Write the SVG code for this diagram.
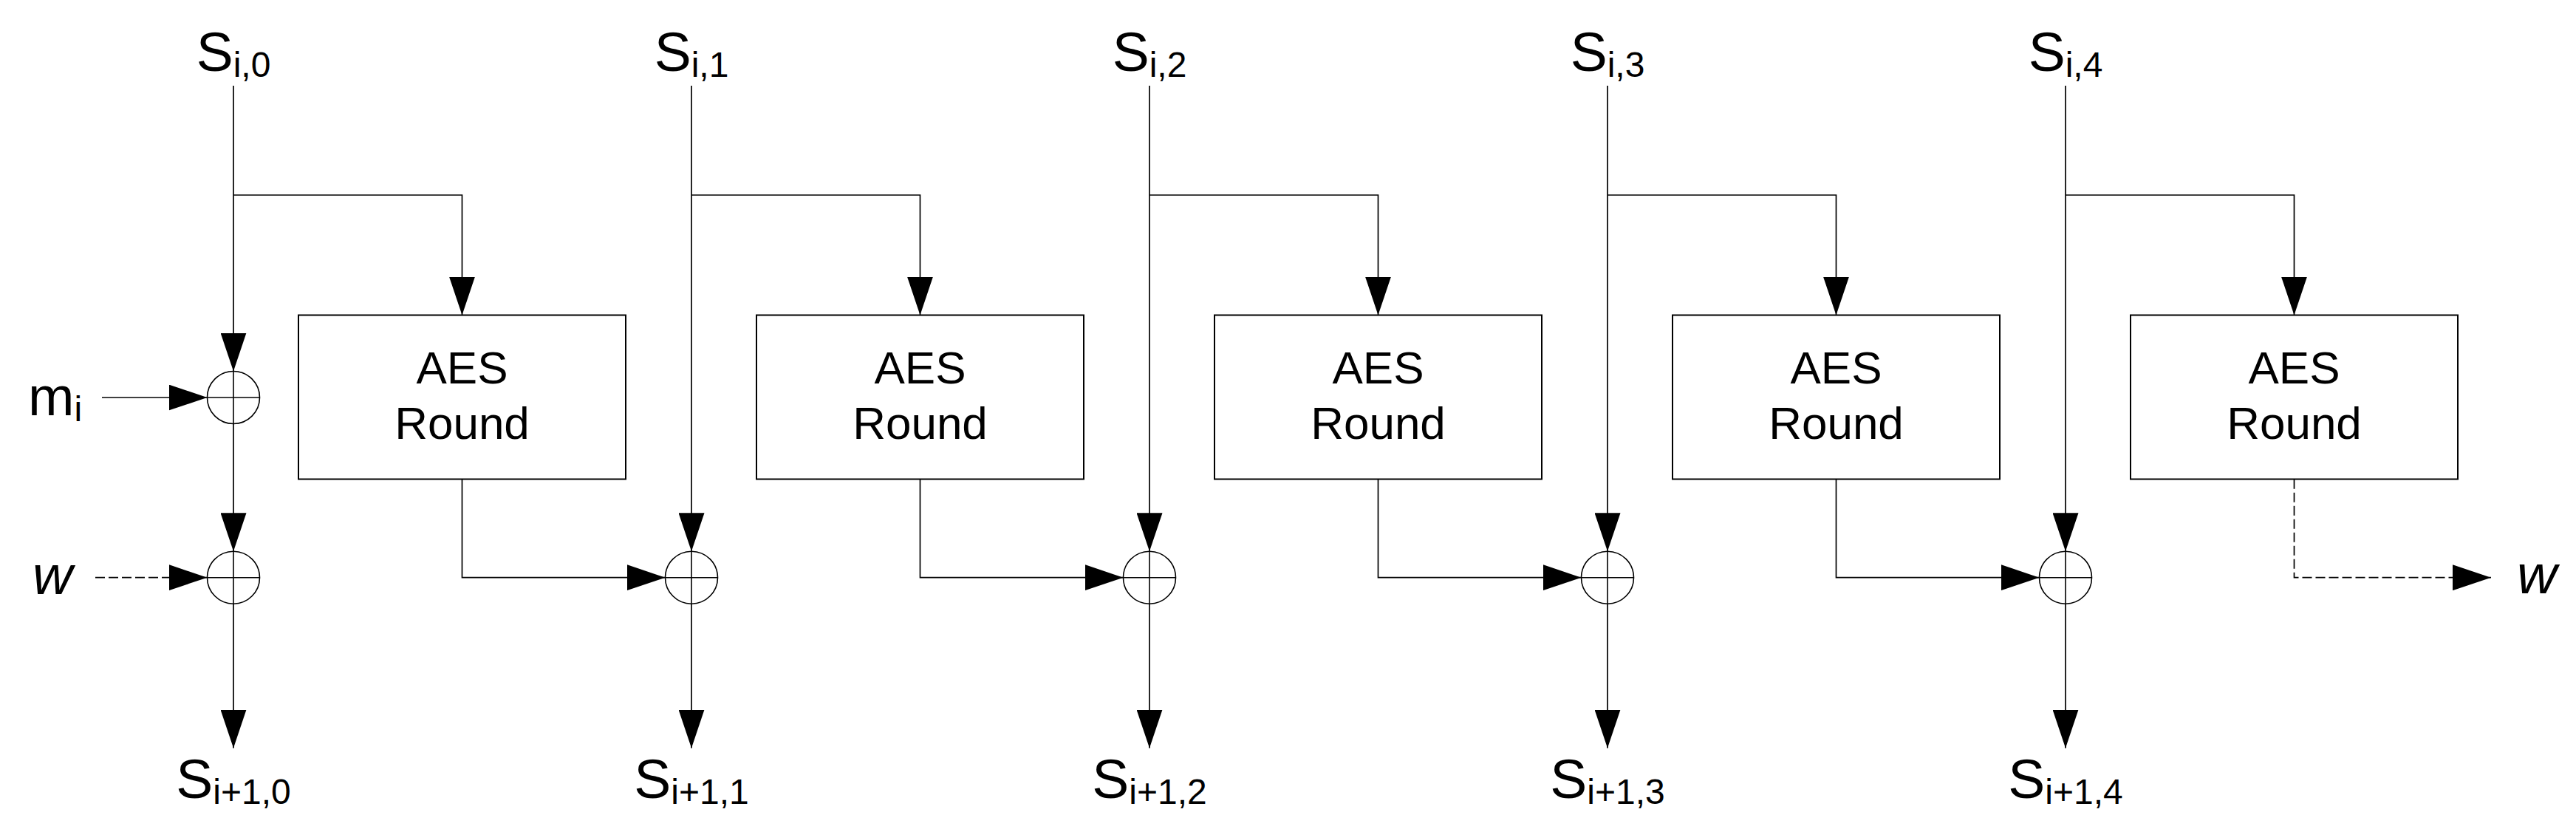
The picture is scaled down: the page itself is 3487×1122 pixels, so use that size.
<svg xmlns="http://www.w3.org/2000/svg" width="3487" height="1122" viewBox="0 0 3487 1122">
<style>
.bg{fill:#fff}
.ln{fill:none;stroke:#000;stroke-width:1.7}
.dash{fill:none;stroke:#000;stroke-width:1.7;stroke-dasharray:13 5}
.box{fill:#fff;stroke:#000;stroke-width:2}
.xor{fill:none;stroke:#000;stroke-width:1.6}
.t{font-family:"Liberation Sans",Arial,sans-serif;fill:#000}
.lbl{font-size:75px}
.sub{font-size:48px}
.aes{font-size:62px}
.it{font-style:italic}
</style>
<defs>
<marker id="ah" markerUnits="userSpaceOnUse" markerWidth="52" markerHeight="35" refX="52" refY="17.5" orient="auto" viewBox="0 0 52 35">
<path d="M0,0 L52,17.5 L0,35 Z" fill="#000"/>
</marker>
</defs>
<rect class="bg" x="0" y="0" width="3487" height="1122"/>

<g id="connectors">
<!-- column 0 -->
<path class="ln" d="M316,116 V502.5" marker-end="url(#ah)"/>
<path class="ln" d="M316,573.5 V746.2" marker-end="url(#ah)"/>
<path class="ln" d="M316,817.2 V1012.5" marker-end="url(#ah)"/>
<path class="ln" d="M138,538 H280.5" marker-end="url(#ah)"/>
<path class="dash" d="M129,781.7 H280.5" marker-end="url(#ah)"/>
<path class="ln" d="M316,264 H625.5 V426.5" marker-end="url(#ah)"/>
<path class="ln" d="M625.5,648.7 V781.7 H900.5" marker-end="url(#ah)"/>
<!-- column 1 -->
<path class="ln" d="M936,116 V746.2" marker-end="url(#ah)"/>
<path class="ln" d="M936,817.2 V1012.5" marker-end="url(#ah)"/>
<path class="ln" d="M936,264 H1245.5 V426.5" marker-end="url(#ah)"/>
<path class="ln" d="M1245.5,648.7 V781.7 H1520.5" marker-end="url(#ah)"/>
<!-- column 2 -->
<path class="ln" d="M1556,116 V746.2" marker-end="url(#ah)"/>
<path class="ln" d="M1556,817.2 V1012.5" marker-end="url(#ah)"/>
<path class="ln" d="M1556,264 H1865.5 V426.5" marker-end="url(#ah)"/>
<path class="ln" d="M1865.5,648.7 V781.7 H2140.5" marker-end="url(#ah)"/>
<!-- column 3 -->
<path class="ln" d="M2176,116 V746.2" marker-end="url(#ah)"/>
<path class="ln" d="M2176,817.2 V1012.5" marker-end="url(#ah)"/>
<path class="ln" d="M2176,264 H2485.5 V426.5" marker-end="url(#ah)"/>
<path class="ln" d="M2485.5,648.7 V781.7 H2760.5" marker-end="url(#ah)"/>
<!-- column 4 -->
<path class="ln" d="M2796,116 V746.2" marker-end="url(#ah)"/>
<path class="ln" d="M2796,817.2 V1012.5" marker-end="url(#ah)"/>
<path class="ln" d="M2796,264 H3105.5 V426.5" marker-end="url(#ah)"/>
<path class="dash" d="M3105.5,648.7 V781.7 H3372" marker-end="url(#ah)"/>
</g>

<g id="box0"><rect class="box" x="404" y="426.5" width="443" height="222"/><text class="t aes" x="625.5" y="519" text-anchor="middle">AES</text><text class="t aes" x="625.5" y="594" text-anchor="middle">Round</text></g>
<g id="box1"><rect class="box" x="1024" y="426.5" width="443" height="222"/><text class="t aes" x="1245.5" y="519" text-anchor="middle">AES</text><text class="t aes" x="1245.5" y="594" text-anchor="middle">Round</text></g>
<g id="box2"><rect class="box" x="1644" y="426.5" width="443" height="222"/><text class="t aes" x="1865.5" y="519" text-anchor="middle">AES</text><text class="t aes" x="1865.5" y="594" text-anchor="middle">Round</text></g>
<g id="box3"><rect class="box" x="2264" y="426.5" width="443" height="222"/><text class="t aes" x="2485.5" y="519" text-anchor="middle">AES</text><text class="t aes" x="2485.5" y="594" text-anchor="middle">Round</text></g>
<g id="box4"><rect class="box" x="2884" y="426.5" width="443" height="222"/><text class="t aes" x="3105.5" y="519" text-anchor="middle">AES</text><text class="t aes" x="3105.5" y="594" text-anchor="middle">Round</text></g>

<g id="xor_m"><circle class="xor" cx="316" cy="538" r="35.5"/><path class="xor" d="M280.5,538 H351.5 M316,502.5 V573.5"/></g>
<g id="xor_w"><circle class="xor" cx="316" cy="781.7" r="35.5"/><path class="xor" d="M280.5,781.7 H351.5 M316,746.2 V817.2"/></g>
<g id="xor1"><circle class="xor" cx="936" cy="781.7" r="35.5"/><path class="xor" d="M900.5,781.7 H971.5 M936,746.2 V817.2"/></g>
<g id="xor2"><circle class="xor" cx="1556" cy="781.7" r="35.5"/><path class="xor" d="M1520.5,781.7 H1591.5 M1556,746.2 V817.2"/></g>
<g id="xor3"><circle class="xor" cx="2176" cy="781.7" r="35.5"/><path class="xor" d="M2140.5,781.7 H2211.5 M2176,746.2 V817.2"/></g>
<g id="xor4"><circle class="xor" cx="2796" cy="781.7" r="35.5"/><path class="xor" d="M2760.5,781.7 H2831.5 M2796,746.2 V817.2"/></g>

<g id="in0"><text class="t lbl" x="316" y="96" text-anchor="middle">S<tspan class="sub" dy="8">i,0</tspan></text></g>
<g id="in1"><text class="t lbl" x="936" y="96" text-anchor="middle">S<tspan class="sub" dy="8">i,1</tspan></text></g>
<g id="in2"><text class="t lbl" x="1556" y="96" text-anchor="middle">S<tspan class="sub" dy="8">i,2</tspan></text></g>
<g id="in3"><text class="t lbl" x="2176" y="96" text-anchor="middle">S<tspan class="sub" dy="8">i,3</tspan></text></g>
<g id="in4"><text class="t lbl" x="2796" y="96" text-anchor="middle">S<tspan class="sub" dy="8">i,4</tspan></text></g>

<g id="out0"><text class="t lbl" x="316" y="1080" text-anchor="middle">S<tspan class="sub" dy="8">i+1,0</tspan></text></g>
<g id="out1"><text class="t lbl" x="936" y="1080" text-anchor="middle">S<tspan class="sub" dy="8">i+1,1</tspan></text></g>
<g id="out2"><text class="t lbl" x="1556" y="1080" text-anchor="middle">S<tspan class="sub" dy="8">i+1,2</tspan></text></g>
<g id="out3"><text class="t lbl" x="2176" y="1080" text-anchor="middle">S<tspan class="sub" dy="8">i+1,3</tspan></text></g>
<g id="out4"><text class="t lbl" x="2796" y="1080" text-anchor="middle">S<tspan class="sub" dy="8">i+1,4</tspan></text></g>

<g id="m_in"><text class="t lbl" x="38" y="562">m<tspan class="sub" dy="8">i</tspan></text></g>
<g id="w_in"><text class="t lbl it" x="44" y="804">w</text></g>
<g id="w_out"><text class="t lbl it" x="3407" y="803">w</text></g>
</svg>
